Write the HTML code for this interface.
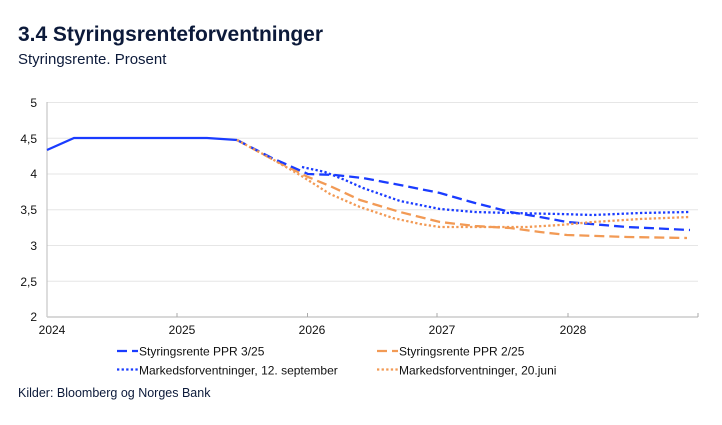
<!DOCTYPE html>
<html><head><meta charset="utf-8"><style>
html,body{margin:0;padding:0;background:#fff;}
body{width:722px;height:420px;overflow:hidden;font-family:"Liberation Sans",sans-serif;}
</style></head><body>
<svg width="722" height="420" viewBox="0 0 722 420" xmlns="http://www.w3.org/2000/svg" font-family="Liberation Sans, sans-serif">
<text x="18" y="41" font-size="21" font-weight="bold" fill="#0c1a3a" textLength="305" lengthAdjust="spacing">3.4 Styringsrenteforventninger</text>
<text x="18" y="64" font-size="15" fill="#0c1a3a">Styringsrente. Prosent</text>
<g stroke="#e6e6e6" stroke-width="1">
<line x1="47" y1="102.5" x2="698" y2="102.5"/>
<line x1="47" y1="138.3" x2="698" y2="138.3"/>
<line x1="47" y1="174" x2="698" y2="174"/>
<line x1="47" y1="209.8" x2="698" y2="209.8"/>
<line x1="47" y1="245.5" x2="698" y2="245.5"/>
<line x1="47" y1="281.3" x2="698" y2="281.3"/>
</g>
<line x1="47" y1="102" x2="47" y2="317" stroke="#bbb" stroke-width="1"/>
<line x1="47" y1="317" x2="698" y2="317" stroke="#ccc" stroke-width="1.5"/>
<g stroke="#aaa" stroke-width="1">
<line x1="177" y1="313" x2="177" y2="317"/><line x1="307.5" y1="313" x2="307.5" y2="317"/>
<line x1="437" y1="313" x2="437" y2="317"/><line x1="568" y1="313" x2="568" y2="317"/>
<line x1="698" y1="313" x2="698" y2="317"/>
</g>
<g font-size="12" fill="#111" text-anchor="end">
<text x="37" y="107">5</text><text x="37" y="143">4,5</text><text x="37" y="178">4</text>
<text x="37" y="214">3,5</text><text x="37" y="250">3</text><text x="37" y="286">2,5</text><text x="37" y="321">2</text>
</g>
<g font-size="12" fill="#111" text-anchor="middle">
<text x="52" y="334">2024</text><text x="182" y="334">2025</text><text x="312" y="334">2026</text>
<text x="442" y="334">2027</text><text x="573" y="334">2028</text>
</g>
<g fill="none" stroke-width="2.3">
<polyline stroke="#1a3cff" points="47,150 74,138 207,138 237,140"/>
<polyline stroke="#f29a55" stroke-dasharray="10,5" points="237,140 272,159 308,177 330,186 360,200 400,212 440,222 475,226 510,228 540,232 567,235 627,237 687,238"/>
<polyline stroke="#1a3cff" stroke-dasharray="10,5" points="237,140 272,158 308,174 335,175 363,178 400,185 440,193 475,203 510,212 540,217 567,222 627,227 690,230"/>
<polyline stroke="#1a3cff" stroke-dasharray="2.3,2.3" points="302,167 325,172 345,180 363,188 400,201 440,209 475,212 510,213 560,214 593,215 640,213 690,212"/>
<polyline stroke="#f29a55" stroke-dasharray="2.3,2.3" points="237,140 272,159 300,175 330,194 360,207 393,218 420,224 440,227 470,227 527,227 560,225 593,222 640,219 690,217"/>
</g>
<g stroke-width="2.3" fill="none">
<line x1="117" y1="351" x2="138" y2="351" stroke="#1a3cff" stroke-dasharray="10,5"/>
<line x1="377" y1="351" x2="398" y2="351" stroke="#f29a55" stroke-dasharray="10,5"/>
<line x1="117" y1="369.5" x2="138" y2="369.5" stroke="#1a3cff" stroke-dasharray="2.3,2.3"/>
<line x1="377" y1="369.5" x2="398" y2="369.5" stroke="#f29a55" stroke-dasharray="2.3,2.3"/>
</g>
<g font-size="12" fill="#111">
<text x="139" y="355.5">Styringsrente PPR 3/25</text>
<text x="399" y="355.5">Styringsrente PPR 2/25</text>
<text x="139" y="374.5">Markedsforventninger, 12. september</text>
<text x="399" y="374.5">Markedsforventninger, 20.juni</text>
</g>
<text x="18" y="397" font-size="12.5" fill="#0c1a3a">Kilder: Bloomberg og Norges Bank</text>
</svg>
</body></html>
